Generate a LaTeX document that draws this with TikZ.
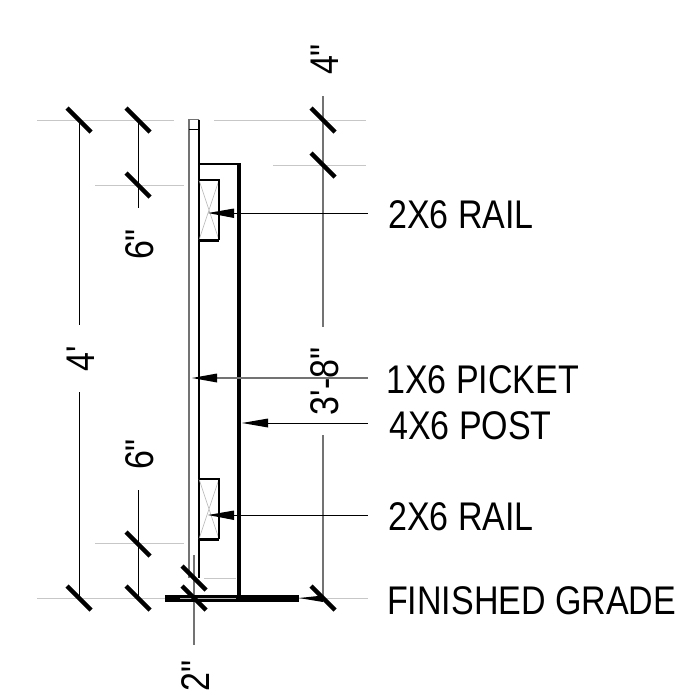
\documentclass[tikz,border=0pt]{standalone}
\usepackage{fontspec}
\setmainfont{Liberation Sans}[FakeStretch=0.85,Ligatures=TeXOff]
\tikzset{
 px/.style={x=1pt,y=-1pt},
 tickmark/.style={line width=4.3pt,black},
 dimline/.style={line width=0.9pt,black},
 greydim/.style={line width=1.2pt,black!55},
 ext/.style={line width=1pt,black!22},
 lead/.style={line width=0.9pt,black},
 greylead/.style={line width=1.2pt,black!55},
 heavy/.style={line width=1.7pt,black},
 callout/.style={anchor=base west,inner sep=0pt,font=\fontsize{40}{40}\selectfont},
 dimtext/.style={anchor=base,inner sep=0pt,font=\fontsize{40}{40}\selectfont,rotate=90},
}
\begin{document}
\begin{tikzpicture}[px]
\useasboundingbox (0,0) rectangle (692,693);
% extension lines
\draw[ext] (37,120) -- (174,120);
\draw[ext] (214,120) -- (366,120);
\draw[ext] (95,185) -- (184,185);
\draw[ext] (273,165) -- (366,165);
\draw[ext] (95,543) -- (184,543);
\draw[ext] (204,578) -- (236,578);
\draw[ext] (37,598) -- (368,598);
% dim lines
\draw[dimline] (79,120) -- (79,325);
\draw[dimline] (79,392) -- (79,598);
\draw[dimline] (138,120) -- (138,208);
\draw[dimline] (138,490) -- (138,598);
\draw[greydim] (323,96) -- (323,327);
\draw[greydim] (323,435) -- (323,598);
\draw[greydim] (194,555) -- (194,645);
% picket
\draw[line width=1.2pt,black!55] (189,578) -- (189,119.5) -- (199,119.5);
\draw[heavy] (199,119.5) -- (199,578);
\draw[heavy] (189,129.5) -- (199,129.5);
% post
\draw[heavy] (199,164) -- (238.5,164);
\draw[line width=4pt] (238.5,163) -- (238.5,598);
% rails
\foreach \t/\b in {180/240,479/539}{
 \draw[black!30,line width=.6pt] (199,\t) -- (219,\b) (219,\t) -- (199,\b);
 \draw[line width=1.2pt] (199,\t) -- (219,\t) -- (219,\b);
 \draw[line width=3pt] (199,\b) -- (219,\b);
}
% ground
\fill (165,594.5) rectangle (299,601.5);
\draw[black!30,line width=.7pt] (180,598) -- (236,598);
% leaders
\coordinate (a1) at (368,213); \coordinate (a2) at (368,378);
\coordinate (a3) at (368,423); \coordinate (a4) at (368,515);
\draw[lead] (234,213) -- (a1);
\fill (208,213) -- (234,208.5) -- (234,218) -- cycle;
\draw[greylead] (217,378) -- (a2);
\fill (192,378) -- (217,373.5) -- (217,382.5) -- cycle;
\draw[lead] (268,423) -- (a3);
\fill (242,423) -- (268,418.5) -- (268,427.5) -- cycle;
\draw[lead] (234,515) -- (a4);
\fill (208,515) -- (234,510.5) -- (234,520) -- cycle;
\fill (299,598) -- (323,595.5) -- (323,602) -- cycle;
% ticks
\foreach \x/\y in {79/120,138/120,138/185,323/120,323/165,79/598,138/598,138/544,194/578,194/598,323/598}{
 \draw[tickmark] (\x-12,\y-12) -- (\x+12,\y+12);
}
% labels
\node[callout] (r1) at (388,228) {2X6 RAIL};
\node[callout] (p1) at (386,393) {1X6 PICKET};
\node[callout] (p2) at (389,439) {4X6 POST};
\node[callout] (r2) at (388,530) {2X6 RAIL};
\node[callout] (fg) at (387,614) {FINISHED GRADE};
\node[dimtext] (d1) at (94,358.5) {4'};
\node[dimtext] (d2) at (153,244.5) {6"};
\node[dimtext] (d3) at (153,454.5) {6"};
\node[dimtext] (d4) at (338,381.5) {3'-8"};
\node[dimtext] (d5) at (338,59.5) {4"};
\node[dimtext] (d6) at (209,676) {2"};
\end{tikzpicture}
\end{document}
